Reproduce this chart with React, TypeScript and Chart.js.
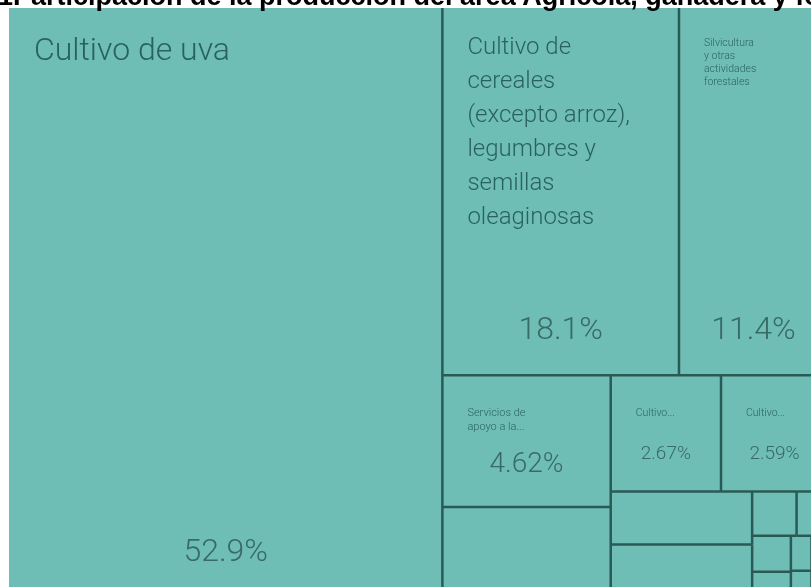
import React, { useEffect, useRef } from "react";
import { Chart, registerables } from "chart.js";

Chart.register(...registerables);

// ---- data ----
const TITLE_LEAD = "Gráfico N°1 ";
const TITLE_MAIN = "Participación de la producción del área Agrícola, ganadera y forestal";

const categories = [
  "Cultivo de uva",
  "Cultivo de cereales (excepto arroz), legumbres y semillas oleaginosas",
  "Silvicultura y otras actividades forestales",
  "Servicios de apoyo a la agricultura y la ganadería",
  "Cría de ganado bovino y búfalos",
  "Cultivo de frutas de pepita y de hueso",
  "Cultivo de hortalizas y melones, raíces y tubérculos",
  "Cultivo de otros frutos y nueces de árboles y arbustos",
  "Cría de ovejas y cabras",
  "Cultivo de plantas no perennes n.c.p.",
  "Explotación mixta",
  "Cría de aves de corral",
  "Cultivo de flores",
  "Extracción de madera",
  "Cría de cerdos",
  "Apicultura",
  "Caza ordinaria y mediante trampas",
];

const shares = [
  52.9, 18.1, 11.4, 4.62, 3.05, 2.67, 2.59, 1.56, 1.46, 0.41, 0.29, 0.29, 0.18,
  0.15, 0.12, 0.1, 0.08,
];

// ---- styles (by rank) ----
type TextStyle = {
  label: number;
  lh: number;
  wrapW: number;
  lines: number;
  labelTop: number;
  value: number;
  vOff: number;
} | null;

const CELL_TEXT: TextStyle[] = [
  { label: 32, lh: 38, wrapW: 400, lines: 1, labelTop: 52, value: 32, vOff: 44 },
  { label: 24, lh: 34, wrapW: 172, lines: 6, labelTop: 46, value: 32, vOff: 48 },
  { label: 10.5, lh: 13, wrapW: 54, lines: 4, labelTop: 38, value: 32, vOff: 48 },
  { label: 11, lh: 14, wrapW: 75, lines: 2, labelTop: 41, value: 28, vOff: 45 },
  null,
  { label: 10.5, lh: 12, wrapW: 40, lines: 1, labelTop: 41, value: 19, vOff: 39 },
  { label: 10.5, lh: 12, wrapW: 40, lines: 1, labelTop: 41, value: 19, vOff: 39 },
];

const FILL = "#6fbeb6";
const LINE = "#2a5a55";
const LABEL_COLOR = "rgba(22,72,67,0.78)";
const VALUE_COLOR = "rgba(34,74,70,0.72)";
const FONT = "Roboto, 'Noto Sans', sans-serif";

type R = { x0: number; y0: number; x1: number; y1: number };

// d3-style squarified layout (golden ratio)
function squarify(vals: number[], x0: number, y0: number, x1: number, y1: number): R[] {
  const ratio = (1 + Math.sqrt(5)) / 2;
  const n = vals.length;
  const out: R[] = new Array(n);
  let i0 = 0;
  let i1 = 0;
  let value = vals.reduce((a, b) => a + b, 0);
  while (i0 < n) {
    const dx = x1 - x0;
    const dy = y1 - y0;
    let sumValue = vals[i1++];
    let minValue = sumValue;
    let maxValue = sumValue;
    const alpha = Math.max(dy / dx, dx / dy) / (value * ratio);
    let beta = sumValue * sumValue * alpha;
    let minRatio = Math.max(maxValue / beta, beta / minValue);
    for (; i1 < n; ++i1) {
      const nv = vals[i1];
      sumValue += nv;
      if (nv < minValue) minValue = nv;
      if (nv > maxValue) maxValue = nv;
      beta = sumValue * sumValue * alpha;
      const newRatio = Math.max(maxValue / beta, beta / minValue);
      if (newRatio > minRatio) {
        sumValue -= nv;
        break;
      }
      minRatio = newRatio;
    }
    if (dx < dy) {
      const yy = value ? y0 + (dy * sumValue) / value : y1;
      let xx = x0;
      const k = (x1 - x0) / sumValue;
      for (let i = i0; i < i1; i++) {
        const w = vals[i] * k;
        out[i] = { x0: xx, y0: y0, x1: xx + w, y1: yy };
        xx += w;
      }
      y0 = yy;
    } else {
      const xx = value ? x0 + (dx * sumValue) / value : x1;
      let yy = y0;
      const k = (y1 - y0) / sumValue;
      for (let i = i0; i < i1; i++) {
        const h = vals[i] * k;
        out[i] = { x0: x0, y0: yy, x1: xx, y1: yy + h };
        yy += h;
      }
      x0 = xx;
    }
    value -= sumValue;
    i0 = i1;
  }
  return out;
}

function wrapLabel(ctx: CanvasRenderingContext2D, text: string, maxWidth: number, maxLines: number) {
  const words = text.split(" ");
  const lines: string[] = [];
  let cur = "";
  let truncated = false;
  for (let i = 0; i < words.length; i++) {
    const test = cur ? cur + " " + words[i] : words[i];
    if (!cur || ctx.measureText(test).width <= maxWidth) {
      cur = test;
    } else {
      lines.push(cur);
      cur = words[i];
      if (lines.length === maxLines) {
        truncated = true;
        break;
      }
    }
  }
  if (!truncated) lines.push(cur);
  if (truncated) lines[maxLines - 1] = lines[maxLines - 1] + "...";
  return lines;
}

const treemapPlugin = {
  id: "treemapCells",
  afterDatasetsDraw(chart: any) {
    const { ctx, chartArea, scales } = chart;
    const xs = scales.x;
    const ys = scales.y;
    const aspect = chartArea.width / chartArea.height;
    const rects = squarify(shares, 0, 0, aspect, 1);
    const px = (v: number) => xs.getPixelForValue(v / aspect);
    const py = (v: number) => ys.getPixelForValue(v);
    const X1 = px(aspect);
    const Y1 = py(1);

    ctx.save();
    ctx.beginPath();
    ctx.rect(chartArea.left, chartArea.top, chartArea.width, chartArea.height);
    ctx.clip();

    rects.forEach((r) => {
      ctx.fillStyle = FILL;
      ctx.fillRect(px(r.x0), py(r.y0), px(r.x1) - px(r.x0), py(r.y1) - py(r.y0));
    });

    ctx.strokeStyle = LINE;
    ctx.lineWidth = 2.5;
    rects.forEach((r) => {
      const a = px(r.x0), b = py(r.y0), c = px(r.x1), d = py(r.y1);
      ctx.beginPath();
      if (c < X1 - 0.5) {
        ctx.moveTo(c, b);
        ctx.lineTo(c, d);
      }
      if (d < Y1 - 0.5) {
        ctx.moveTo(a, d);
        ctx.lineTo(c, d);
      }
      ctx.stroke();
    });

    rects.forEach((r, i) => {
      const st = CELL_TEXT[i];
      if (!st) return;
      const a = px(r.x0), b = py(r.y0), c = px(r.x1), d = py(r.y1);
      ctx.fillStyle = LABEL_COLOR;
      ctx.textAlign = "left";
      ctx.textBaseline = "alphabetic";
      ctx.font = `300 ${st.label}px ${FONT}`;
      const lines = wrapLabel(ctx, categories[i], st.wrapW, st.lines);
      lines.forEach((ln, k) => {
        ctx.fillText(ln, a + 25, b + st.labelTop + k * st.lh);
      });
      ctx.fillStyle = VALUE_COLOR;
      ctx.textAlign = "center";
      ctx.font = `300 ${st.value}px ${FONT}`;
      const txt = shares[i].toPrecision(3) + "%";
      ctx.fillText(txt, (a + c) / 2, d - st.vOff + st.value * 0.355);
    });
    ctx.restore();
  },
};

export default function App() {
  const ref = useRef<HTMLCanvasElement | null>(null);
  useEffect(() => {
    if (!ref.current) return;
    const chart = new Chart(ref.current, {
      type: "scatter",
      data: { datasets: [{ data: [] }] },
      options: {
        animation: false,
        responsive: false,
        maintainAspectRatio: false,
        events: [],
        layout: { padding: { left: 9, top: 8, right: 12, bottom: 6 } },
        scales: {
          x: { type: "linear", display: false, min: 0, max: 1 },
          y: { type: "linear", display: false, min: 0, max: 1, reverse: true },
        },
        plugins: {
          legend: { display: false },
          tooltip: { enabled: false },
          title: { display: false },
        },
      },
      plugins: [treemapPlugin],
    });
    return () => chart.destroy();
  }, []);

  return (
    <div
      style={{
        position: "fixed",
        left: 0,
        top: 0,
        width: 811,
        height: 587,
        overflow: "hidden",
        background: "#ffffff",
      }}
    >
      <canvas
        ref={ref}
        width={840}
        height={600}
        style={{ position: "absolute", left: 0, top: 0, width: 840, height: 600 }}
      />
      <div
        style={{
          position: "absolute",
          left: 13,
          top: -19,
          font: "bold 27px 'Liberation Sans', Arial, sans-serif",
          lineHeight: "30px",
          whiteSpace: "nowrap",
          color: "#000",
        }}
      >
        <span style={{ position: "absolute", right: "100%", top: 0 }}>{TITLE_LEAD}</span>
        {TITLE_MAIN}
      </div>
    </div>
  );
}
